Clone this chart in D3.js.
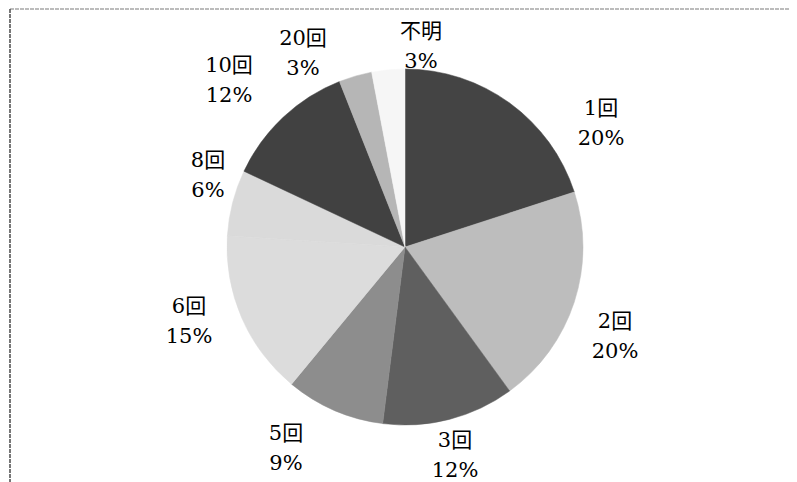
<!DOCTYPE html>
<html>
<head>
<meta charset="utf-8">
<script src="https://cdn.jsdelivr.net/npm/d3@7"></script>
<style>
  body { margin: 0; background: #fff; }
  svg { display: block; }
  text { font-family: "DejaVu Serif", "Noto Sans CJK JP", serif; font-size: 21px; fill: #000; }
</style>
</head>
<body>
<svg id="chart"></svg>
<script>
const width = 797, height = 482;

// slice categories and shares (%), clockwise from 12 o'clock
const categories = ["1回", "2回", "3回", "5回", "6回", "8回", "10回", "20回", "不明"];
const shares = [20, 20, 12, 9, 15, 6, 12, 3, 3];
const shareLabels = ["20%", "20%", "12%", "9%", "15%", "6%", "12%", "3%", "3%"];

// grey fills
const fills = ["#444444", "#bdbdbd", "#5f5f5f", "#8d8d8d", "#dcdcdc", "#dadada", "#414141", "#b6b6b6", "#f6f6f6"];

// label anchor points (centre x, first-line baseline)
const labelPos = [
  [601, 115], [615, 328], [455, 447], [286, 440], [189, 313],
  [208, 167], [229, 72], [303, 45], [421, 38]
];

const cx = 405, cy = 247, radius = 178;

const svg = d3.select("#chart")
  .attr("width", width)
  .attr("height", height);

// scanned frame (top and left edges only)
svg.append("line")
  .attr("x1", 10).attr("y1", 9).attr("x2", 790).attr("y2", 9)
  .attr("stroke", "#7a7a7a").attr("stroke-width", 1.2).attr("stroke-dasharray", "4,1");
svg.append("line")
  .attr("x1", 10).attr("y1", 9).attr("x2", 10).attr("y2", height)
  .attr("stroke", "#555").attr("stroke-width", 1.6).attr("stroke-dasharray", "4,1");

const data = categories.map((c, i) => ({ cat: c, value: shares[i], label: shareLabels[i], fill: fills[i], pos: labelPos[i] }));

const pie = d3.pie().sort(null).value(d => d.value);
const arc = d3.arc().innerRadius(0).outerRadius(radius);

const g = svg.append("g").attr("transform", `translate(${cx},${cy})`);

g.selectAll("path")
  .data(pie(data))
  .join("path")
  .attr("d", arc)
  .attr("fill", d => d.data.fill)
  .attr("stroke", d => d.data.fill)
  .attr("stroke-width", 0.5);

const labels = svg.append("g").selectAll("text")
  .data(data)
  .join("text")
  .attr("text-anchor", "middle")
  .attr("x", d => d.pos[0])
  .attr("y", d => d.pos[1]);

labels.append("tspan")
  .attr("x", d => d.pos[0])
  .text(d => d.cat);
labels.append("tspan")
  .attr("x", d => d.pos[0])
  .attr("dy", 30)
  .text(d => d.label);
</script>
</body>
</html>
